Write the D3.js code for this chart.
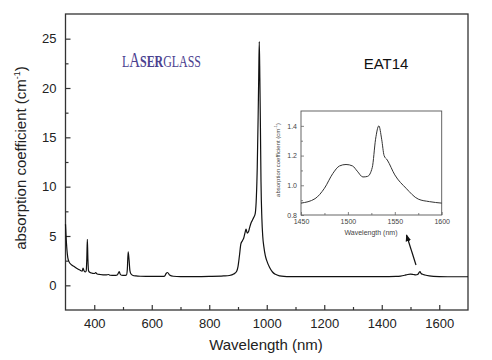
<!DOCTYPE html>
<html><head><meta charset="utf-8">
<script src="https://cdn.jsdelivr.net/npm/d3@7/dist/d3.min.js"></script>
<style>body{margin:0;background:#fff}svg{display:block}</style>
</head><body>
<script>
// Main spectrum
const mainWl = [300,302,305,308,312,320,330,340,350,358,361,364,368,372,374,376,378,380,383,390,400,405,410,420,440,450,455,470,480,484,487,490,495,505,512,515,518,521,524,528,535,545,560,600,640,645,650,655,662,675,700,750,800,850,870,885,895,900,905,910,915,920,925,928,932,936,940,945,950,955,960,964,967,970,972,974,976,978,980,983,986,990,995,1000,1010,1020,1030,1045,1060,1080,1100,1200,1300,1400,1450,1465,1480,1490,1500,1510,1518,1525,1530,1533,1537,1542,1550,1565,1580,1600,1650,1700];
const mainAbs = [6.2,5.0,3.6,2.8,2.4,2.1,1.9,1.7,1.55,1.45,1.75,1.5,1.35,1.45,2.6,4.65,2.6,1.5,1.35,1.25,1.2,1.28,1.15,1.1,1.05,1.1,1.02,1.0,1.05,1.25,1.4,1.15,1.02,1.0,1.05,1.6,3.4,2.6,1.5,1.15,1.0,0.95,0.92,0.9,0.9,0.95,1.2,1.3,1.05,0.92,0.88,0.88,0.9,0.95,1.0,1.15,1.4,1.9,3.0,4.2,4.5,4.8,5.4,5.7,5.3,5.4,5.8,6.3,6.6,6.9,7.3,9.0,12.0,17.0,21.0,24.7,21.0,16.0,10.5,6.8,5.0,3.9,3.0,2.5,1.8,1.35,1.12,0.96,0.9,0.88,0.88,0.88,0.88,0.88,0.9,0.93,1.02,1.1,1.14,1.1,1.06,1.1,1.3,1.38,1.2,1.12,1.05,0.95,0.9,0.88,0.87,0.87];
// Inset spectrum (1450-1600 nm)
const insetWl = [1450,1465,1475,1484,1491,1498,1505,1510,1516,1521,1526,1529.5,1533,1536,1538.6,1542,1550,1562,1575,1587,1600];
const insetAbs = [0.88,0.91,0.98,1.08,1.13,1.14,1.13,1.095,1.056,1.06,1.12,1.31,1.40,1.31,1.20,1.17,1.07,0.98,0.907,0.89,0.88];
const xTicks = [400,600,800,1000,1200,1400,1600];
const yTicks = [0,5,10,15,20,25];
const insetXTicks = [1450,1500,1550,1600];
const insetYTicks = [0.8,1.0,1.2,1.4];

const W=492,H=360;
const svg=d3.select("body").append("svg").attr("width",W).attr("height",H);
const font="Liberation Sans, Arial, sans-serif";
const ink="#222";

const x=d3.scaleLinear().domain([300,1700]).range([65.5,468]);
const y=d3.scaleLinear().domain([-2.5,27.5]).range([310,14]);

// frame
svg.append("rect").attr("x",65.5).attr("y",14).attr("width",468-65.5).attr("height",296)
  .attr("fill","none").attr("stroke","#333").attr("stroke-width",1.3);

// ticks
const gx=svg.append("g").attr("transform","translate(0,310)")
  .call(d3.axisBottom(x).tickValues(xTicks).tickSize(-5).tickPadding(9).tickFormat(d3.format("d")));
const gxm=svg.append("g").attr("transform","translate(0,310)")
  .call(d3.axisBottom(x).tickValues(d3.range(500,1700,200)).tickSize(-3).tickFormat(""));
const gy=svg.append("g").attr("transform","translate(65.5,0)")
  .call(d3.axisLeft(y).tickValues(yTicks).tickSize(-5).tickPadding(9));
const gym=svg.append("g").attr("transform","translate(65.5,0)")
  .call(d3.axisLeft(y).tickValues([2.5,7.5,12.5,17.5,22.5]).tickSize(-3).tickFormat(""));
[gx,gxm,gy,gym].forEach(g=>{
  g.select(".domain").remove();
  g.selectAll("line").attr("stroke","#333").attr("stroke-width",1.2);
  g.selectAll("text").attr("font-family",font).attr("font-size",13).attr("fill",ink);
});

// axis labels
svg.append("text").attr("x",266).attr("y",350).attr("text-anchor","middle")
  .attr("font-family",font).attr("font-size",15).attr("fill",ink).text("Wavelength (nm)");
const yl=svg.append("text").attr("transform","translate(26,158) rotate(-90)").attr("text-anchor","middle")
  .attr("font-family",font).attr("font-size",15).attr("fill",ink);
yl.append("tspan").text("absorption coefficient (cm");
yl.append("tspan").attr("font-size",9).attr("dy",-6).text("-1");
yl.append("tspan").attr("dy",6).text(")");

// main curve
const line=d3.line().x(d=>x(d[0])).y(d=>y(d[1])).curve(d3.curveMonotoneX);
svg.append("path").datum(mainWl.map((w,i)=>[w,mainAbs[i]]))
  .attr("d",line).attr("fill","none").attr("stroke","#111").attr("stroke-width",1.2);

// labels
svg.append("text").attr("x",386).attr("y",69).attr("text-anchor","middle")
  .attr("font-family",font).attr("font-size",15).attr("fill","#111").text("EAT14");
const logoG=svg.append("g");
const logo=logoG.append("text").attr("x",0).attr("y",0).attr("font-family","Liberation Serif, serif")
  .attr("fill","#4b418f").attr("font-size",16);
logo.append("tspan").text("L");
logo.append("tspan").attr("font-size",20).text("A");
logo.append("tspan").attr("font-weight","bold").text("SER");
logo.append("tspan").text("GLASS");
const lw=logo.node().getComputedTextLength();
logoG.attr("transform",`translate(122,67) scale(${79/lw},1)`);

// inset
const ix=d3.scaleLinear().domain([1450,1600]).range([301,441.7]);
const iy=d3.scaleLinear().domain([0.8,1.5]).range([215,111]);
svg.append("rect").attr("x",301).attr("y",111).attr("width",140.7).attr("height",104)
  .attr("fill","#fff").attr("stroke","#555").attr("stroke-width",0.9);
const igx=svg.append("g").attr("transform","translate(0,215)")
  .call(d3.axisBottom(ix).tickValues(insetXTicks).tickSize(-3).tickPadding(4).tickFormat(d3.format("d")));
const igxm=svg.append("g").attr("transform","translate(0,215)")
  .call(d3.axisBottom(ix).tickValues([1475,1525,1575]).tickSize(-2).tickFormat(""));
const igy=svg.append("g").attr("transform","translate(301,0)")
  .call(d3.axisLeft(iy).tickValues(insetYTicks).tickSize(-3).tickPadding(4).tickFormat(d3.format(".1f")));
const igym=svg.append("g").attr("transform","translate(301,0)")
  .call(d3.axisLeft(iy).tickValues([0.9,1.1,1.3]).tickSize(-2).tickFormat(""));
[igx,igxm,igy,igym].forEach(g=>{
  g.select(".domain").remove();
  g.selectAll("line").attr("stroke","#666").attr("stroke-width",0.8);
  g.selectAll("text").attr("font-family",font).attr("font-size",7).attr("fill","#444");
});
svg.append("text").attr("x",371).attr("y",235).attr("text-anchor","middle")
  .attr("font-family",font).attr("font-size",7).attr("fill","#444").text("Wavelength (nm)");
const iyl=svg.append("text").attr("transform","translate(280,160) rotate(-90)").attr("text-anchor","middle")
  .attr("font-family",font).attr("font-size",6).attr("fill","#444");
iyl.append("tspan").text("absorption coefficient (cm");
iyl.append("tspan").attr("font-size",4).attr("dy",-3).text("-1");
iyl.append("tspan").attr("dy",3).text(")");
const iline=d3.line().x(d=>ix(d[0])).y(d=>iy(d[1])).curve(d3.curveMonotoneX);
svg.append("path").datum(insetWl.map((w,i)=>[w,insetAbs[i]]))
  .attr("d",iline).attr("fill","none").attr("stroke","#333").attr("stroke-width",1);

// arrow
svg.append("defs").append("marker").attr("id","ah").attr("viewBox","0 0 10 10")
  .attr("refX",9).attr("refY",5).attr("markerWidth",7).attr("markerHeight",7).attr("orient","auto")
  .attr("markerUnits","userSpaceOnUse")
  .append("path").attr("d","M0,1 L10,5 L0,9 Z").attr("fill","#111");
svg.append("line").attr("x1",416).attr("y1",265).attr("x2",406.5).attr("y2",235)
  .attr("stroke","#111").attr("stroke-width",1.2).attr("marker-end","url(#ah)");
</script>
</body></html>
